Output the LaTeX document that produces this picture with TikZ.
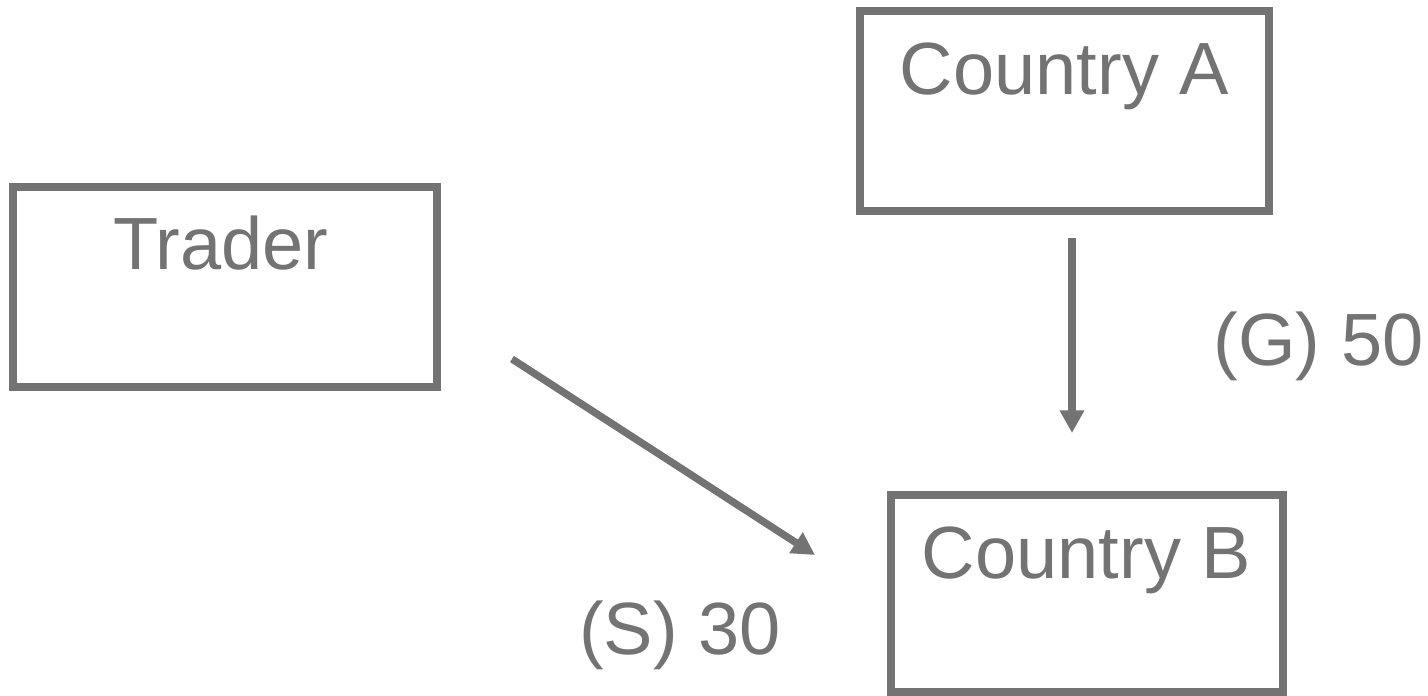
\documentclass[tikz,border=0pt]{standalone}
\usepackage{fontspec}
\setmainfont{Liberation Sans}
\usetikzlibrary{arrows.meta}
\definecolor{linegray}{HTML}{737373}
\begin{document}
\begin{tikzpicture}[x=0.75pt,y=-0.75pt,
  box/.style={draw=linegray,line width=6pt,rectangle,inner sep=0pt,outer sep=0pt},
  lbl/.style={text=linegray,font=\fontsize{55.5}{66}\selectfont,inner sep=0pt,anchor=base},
  flow/.style={draw=linegray,line width=5.5pt,-{Triangle[width=17.5pt,length=17pt]}}]
\useasboundingbox[fill=white] (0,0) rectangle (1428,696);
\node[box,minimum width=306.75pt,minimum height=150pt] (A) at (1064.5,111) {};
\node[box,minimum width=318pt,minimum height=150pt] (T) at (225,287) {};
\node[box,minimum width=294pt,minimum height=147.75pt] (B) at (1087,593.5) {};
\node[lbl] (Alab) at (1064.5,94) {Country A};
\node[lbl] (Tlab) at (221,269) {Trader};
\node[lbl] (Blab) at (1086.5,578) {Country B};
\node[lbl] (G) at (1318.5,365) {(G) 50};
\node[lbl] (S) at (680,654) {(S) 30};
\coordinate (a1) at (1072,238);
\coordinate (a2) at (1072,433);
\coordinate (d1) at (512,359);
\coordinate (d2) at (815,555);
\draw[flow] (a1) -- (a2);
\draw[flow] (d1) -- (d2);
\end{tikzpicture}
\end{document}
